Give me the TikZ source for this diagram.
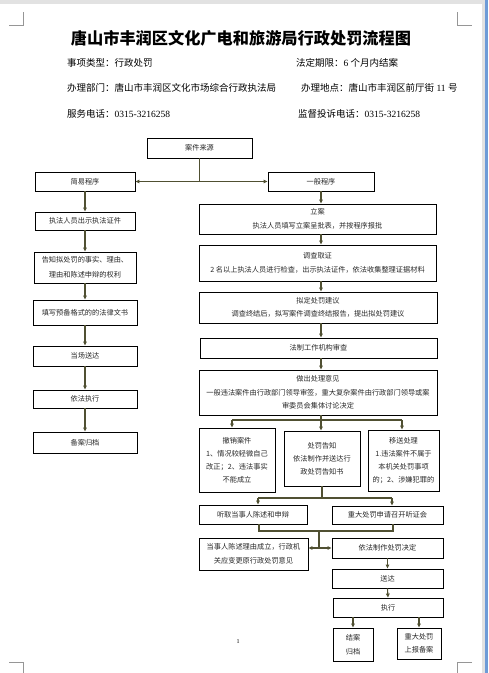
\documentclass[tikz,border=0pt]{standalone}
\usepackage{fontspec}
\setmainfont{Liberation Serif}
\newfontfamily\cjk{Noto Sans CJK SC}
\usetikzlibrary{arrows.meta}
\definecolor{ln}{RGB}{80,80,50}
\definecolor{bluebar}{RGB}{110,155,215}
\definecolor{graybar}{RGB}{226,226,226}
\definecolor{txt}{RGB}{40,40,40}
\definecolor{cmk}{RGB}{150,150,150}
\tikzset{
  box/.style={draw=black, line width=0.9pt, inner sep=1pt, align=center,
    font=\cjk\fontsize{7.2}{13.5}\selectfont, text=txt},
  conn/.style={draw=ln, line width=1.1pt},
  arr/.style={conn, -{Triangle[length=4pt,width=3.6pt]}},
  info/.style={anchor=west, inner sep=0pt, font=\cjk\fontsize{9.5}{11}\selectfont},
  cmark/.style={draw=cmk, line width=0.5pt},
}
\begin{document}
\begin{tikzpicture}[x=1pt,y=-1pt]
\useasboundingbox (0,0) rectangle (488,673);
\fill[white] (0,0) rectangle (488,673);
\fill[graybar] (0,0) rectangle (488,3.5);
\fill[graybar] (481.5,0) rectangle (484.5,673);
\fill[bluebar] (484.5,0) rectangle (488,673);
% corner marks
\draw[cmark] (23,12) -- (23,25) -- (9,25);
\draw[cmark] (457,12) -- (457,25) -- (472,25);
\draw[cmark] (9,662) -- (23,662) -- (23,673);
\draw[cmark] (472,662) -- (457,662) -- (457,673);
% title and info
\node[font=\cjk\bfseries\fontsize{16.2}{18}\selectfont] (title) at (241,38) {唐山市丰润区文化广电和旅游局行政处罚流程图};
\node[info] (i1) at (67,63) {事项类型：行政处罚};
\node[info] (i2) at (296,63) {法定期限：{\rmfamily 6} 个月内结案};
\node[info] (i3) at (67,88) {办理部门：唐山市丰润区文化市场综合行政执法局};
\node[info] (i4) at (301,88) {办理地点：唐山市丰润区前厅街{\rmfamily\ 11 }号};
\node[info] (i5) at (67,114) {服务电话：{\rmfamily 0315-3216258}};
\node[info] (i6) at (298,114) {监督投诉电话：{\rmfamily 0315-3216258}};
% boxes
\node[box, minimum width=105pt, minimum height=20pt] (src) at (199.5,148) {案件来源};
\node[box, minimum width=100pt, minimum height=19pt] (jy) at (85,181.5) {简易程序};
\node[box, minimum width=106pt, minimum height=19pt] (yb) at (321,181.5) {一般程序};
\node[box, minimum width=100pt, minimum height=18pt] (l1) at (85,221) {执法人员出示执法证件};
\node[box, minimum width=102pt, minimum height=31pt, font=\cjk\fontsize{7.2}{15}\selectfont] (l2) at (85,267.5) {告知拟处罚的事实、理由、\\理由和陈述申辩的权利};
\node[box, minimum width=104pt, minimum height=25pt] (l3) at (85,312.5) {填写预备格式的的法律文书};
\node[box, minimum width=104pt, minimum height=20pt] (l4) at (85,356) {当场送达};
\node[box, minimum width=104pt, minimum height=18pt] (l5) at (85,399) {依法执行};
\node[box, minimum width=104pt, minimum height=21pt] (l6) at (85,442.5) {备案归档};
\node[box, minimum width=237pt, minimum height=30pt] (r1) at (317.5,219) {立案\\执法人员填写立案呈批表，并按程序报批};
\node[box, minimum width=237pt, minimum height=36pt] (r2) at (317.5,263) {调查取证\\2 名以上执法人员进行检查，出示执法证件，依法收集整理证据材料};
\node[box, minimum width=238pt, minimum height=31pt] (r3) at (318,307.5) {拟定处罚建议\\调查终结后，拟写案件调查终结报告，提出拟处罚建议};
\node[box, minimum width=237pt, minimum height=20pt] (r4) at (318.5,348) {法制工作机构审查};
\node[box, minimum width=238pt, minimum height=45pt] (r5) at (318,392.5) {做出处理意见\\一般违法案件由行政部门领导审签，重大复杂案件由行政部门领导或案\\审委员会集体讨论决定};
\node[box, minimum width=76pt, minimum height=64pt, font=\cjk\fontsize{7.2}{13}\selectfont] (b1) at (237,460) {撤销案件\\1、情况较轻微自己\\改正；2、违法事实\\不能成立};
\node[box, minimum width=76pt, minimum height=55pt, font=\cjk\fontsize{7.2}{13}\selectfont] (b2) at (322,458.5) {处罚告知\\依法制作并送达行\\政处罚告知书};
\node[box, minimum width=71pt, minimum height=61pt, font=\cjk\fontsize{7.2}{13}\selectfont] (b3) at (403.5,460.5) {移送处理\\1.违法案件不属于\\本机关处罚事项\\的；2、涉嫌犯罪的};
\node[box, minimum width=108pt, minimum height=19pt] (h1) at (253,514.5) {听取当事人陈述和申辩};
\node[box, minimum width=111pt, minimum height=18pt] (h2) at (387.5,515) {重大处罚申请召开听证会};
\node[box, minimum width=109pt, minimum height=32pt] (c1) at (253.5,554) {当事人陈述理由成立，行政机\\关应变更原行政处罚意见};
\node[box, minimum width=111pt, minimum height=20pt] (d1) at (387.5,548) {依法制作处罚决定};
\node[box, minimum width=111pt, minimum height=19pt] (d2) at (387.5,578.5) {送达};
\node[box, minimum width=110pt, minimum height=19pt] (d3) at (388,607.5) {执行};
\node[box, minimum width=40pt, minimum height=33pt] (e1) at (353,644.5) {结案\\归档};
\node[box, minimum width=44pt, minimum height=31pt] (e2) at (419,643.5) {重大处罚\\上报备案};
\node[font=\fontsize{6}{7}\selectfont, inner sep=0pt] (pg) at (238,642) {1};
% connectors
\coordinate (j1) at (src.south |- jy.east);
\draw[conn] (src.south) -- (j1);
\draw[arr] (j1) -- (jy.east);
\draw[arr] (j1) -- (yb.west);
\foreach \a/\b in {jy/l1,l1/l2,l2/l3,l3/l4,l4/l5,l5/l6}
  \draw[arr] (\a.south) -- (\b.north);
\draw[arr] (yb.south) -- (yb.south |- r1.north);
\draw[arr] (yb.south |- r1.south) -- (yb.south |- r2.north);
\draw[arr] (yb.south |- r2.south) -- (yb.south |- r3.north);
\draw[arr] (yb.south |- r3.south) -- (yb.south |- r4.north);
\draw[arr] (yb.south |- r4.south) -- (yb.south |- r5.north);
\coordinate (k1) at (232,420);
\coordinate (k3) at (402,420);
\coordinate (k2) at (k1 -| yb.south);
\draw[conn] (yb.south |- r5.south) -- (k2);
\draw[conn] (k1) -- (k3);
\draw[arr] (k1) -- (k1 |- b1.north);
\draw[arr] (k2) -- (k2 |- b2.north);
\draw[arr] (k3) -- (k3 |- b3.north);
\coordinate (m1) at (258,498);
\coordinate (m3) at (392,498);
\coordinate (m2) at (m1 -| b2.south);
\draw[conn] (b2.south) -- (m2);
\draw[conn] (m1) -- (m3);
\draw[arr] (m1) -- (m1 |- h1.north);
\draw[arr] (m3) -- (m3 |- h2.north);
\coordinate (n1) at (259,531);
\coordinate (n3) at (393,531);
\coordinate (n2) at (319,531);
\coordinate (p) at (319,548);
\draw[conn] (n1 |- h1.south) -- (n1) -- (n3) -- (n3 |- h2.south);
\draw[conn] (n2) -- (p);
\draw[arr] (p) -- (p -| c1.east);
\draw[arr] (p) -- (d1.west);
\draw[arr] (d1.south) -- (d2.north);
\draw[arr] (d2.south) -- (d3.north);
\draw[arr] (e1.north |- d3.south) -- (e1.north);
\draw[arr] (e2.north |- d3.south) -- (e2.north);
\end{tikzpicture}
\end{document}
